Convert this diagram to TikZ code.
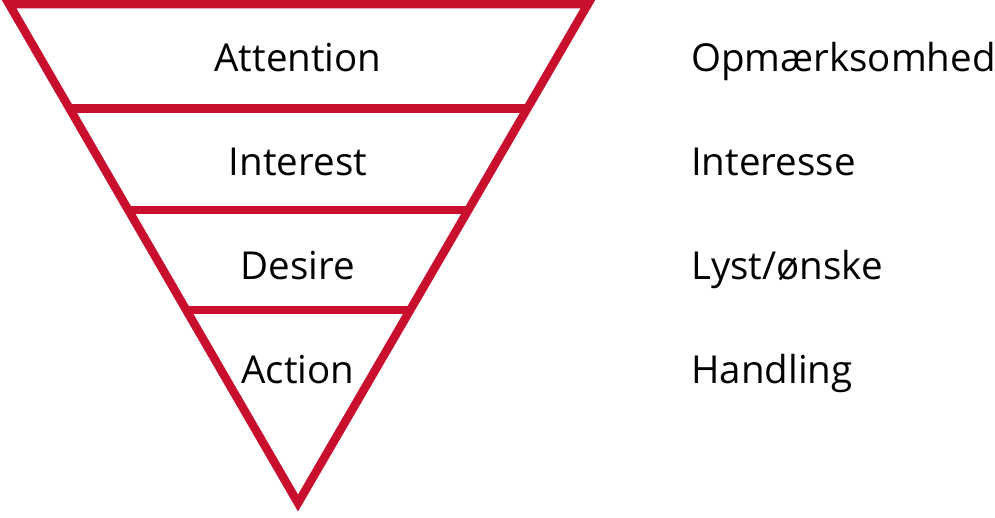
\documentclass[tikz,border=0pt]{standalone}
\usepackage{fontspec}
\setmainfont{Open Sans}
\usetikzlibrary{calc}
\definecolor{funnelred}{HTML}{C8102E}
\begin{document}
\begin{tikzpicture}[x=1pt,y=-1pt,
  edge/.style={draw=funnelred,line width=8.5pt,line join=miter,miter limit=10},
  lbl/.style={font=\fontsize{38.5}{42}\selectfont,text=black,inner sep=0pt,anchor=base}]
\useasboundingbox (0,0) rectangle (995,517);
\coordinate (tl) at (9,4);
\coordinate (tr) at (588,4);
\coordinate (bt) at (298,503);
\draw[edge] (tl) -- (tr) -- (bt) -- cycle;
\foreach \n/\y in {a/108.5,b/210,c/310}{
  \coordinate (l\n) at ($(tl)!{(\y-4)/499}!(bt)$);
  \coordinate (r\n) at ($(tr)!{(\y-4)/499}!(bt)$);
  \draw[edge] (l\n) -- (r\n);
}
\node[lbl] (att) at (298,71) {Attention};
\node[lbl] (int) at (298,175) {Interest};
\node[lbl] (des) at (298,279) {Desire};
\node[lbl] (act) at (298,383) {Action};
\node[lbl,anchor=base west] (opm) at (691,71) {Opmærksomhed};
\node[lbl,anchor=base west] (inte) at (691,175) {Interesse};
\node[lbl,anchor=base west] (lyst) at (691,279) {Lyst/ønske};
\node[lbl,anchor=base west] (hand) at (691,383) {Handling};
\end{tikzpicture}
\end{document}
